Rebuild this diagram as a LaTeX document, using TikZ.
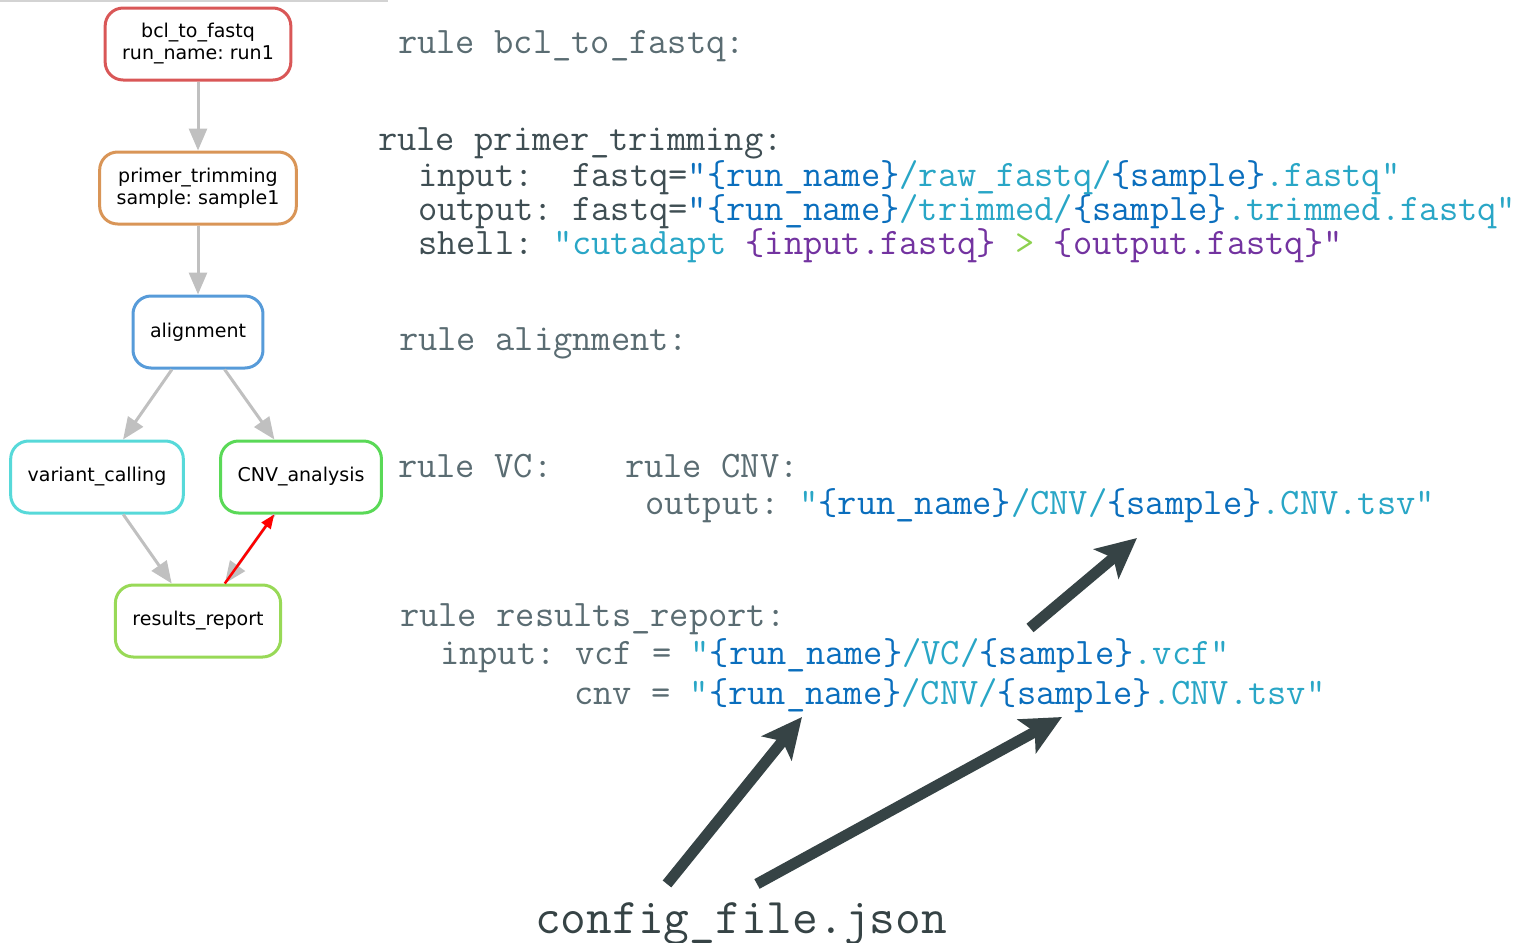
\documentclass[tikz,border=0pt]{standalone}
\usepackage{fontspec}
\setmainfont{DejaVu Sans}
\setmonofont{Latin Modern Mono}
\usepackage{xcolor}
\usetikzlibrary{
  arrows.meta,
  positioning
}
\frenchspacing
\definecolor{jobred}{HTML}{D95757}
\definecolor{joborange}{HTML}{D99557}
\definecolor{jobblue}{HTML}{579BD9}
\definecolor{jobcyan}{HTML}{57D9D9}
\definecolor{jobgreen}{HTML}{5AD957}
\definecolor{joblime}{HTML}{98D957}
\definecolor{edgegray}{HTML}{C0C0C0}
\definecolor{codegray}{HTML}{3F4E53}
\definecolor{codelight}{HTML}{5A6C72}
\definecolor{runblue}{HTML}{0A6EBD}
\definecolor{pathcyan}{HTML}{29A6C6}
\definecolor{varpurple}{HTML}{7333A0}
\definecolor{opgreen}{HTML}{8DD14F}
\definecolor{arrowdark}{HTML}{364345}

\begin{document}
\begin{tikzpicture}[
      x=1pt, y=1pt,
      job/.style={draw, line width=3pt, rounded corners=18pt, minimum height=72pt, inner xsep=17pt, inner ysep=4pt, align=center, font=\fontsize{19}{22}\selectfont},
      edge/.style={-{Triangle[length=22pt, width=18pt]}, line width=3pt, draw=edgegray},
      redge/.style={-{Triangle[length=14pt, width=11pt]}, line width=2.5pt, draw=red},
      code/.style={anchor=base west, inner sep=0pt, font=\ttfamily\fontsize{37.4}{43}\selectfont, text=codegray},
      rulehead/.style={code, text=codelight},
      bigarrow/.style={-{Stealth[length=40pt, width=38pt, inset=9pt]}, line width=11pt, draw=arrowdark}
  ]
      \useasboundingbox (0,0) rectangle (1519,-943);
      \draw[edgegray!70, line width=1.5pt] (0,-1) -- (388,-1);

      % Workflow graph
      \node[job, draw=jobred] (bcl) at (198,-44) {bcl\_to\_fastq\\run\_name: run1};
      \node[job, draw=joborange, below=69pt of bcl] (trim) {primer\_trimming\\sample: sample1};
      \node[job, draw=jobblue, below=69pt of trim] (align) {alignment};
      \node[job, draw=jobcyan] (variant) at (97,-477) {variant\_calling};
      \node[job, draw=jobgreen] (cnv) at (301,-477) {CNV\_analysis};
      \node[job, draw=joblime] (report) at (198,-621) {results\_report};

      \draw[edge] (bcl) -- (trim);
      \draw[edge] (trim) -- (align);
      \draw[edge] (align) -- (variant);
      \draw[edge] (align) -- (cnv);
      \draw[edge] (variant) -- (report);
      \draw[edge] (cnv) -- (report);
      \draw[redge] (report) -- (cnv);

      % Rules
      \node[rulehead] (rbcl) at (398,-53) {rule~bcl\_to\_fastq:};

      \node[code] (rtrim) at (378,-150) {rule~primer\_trimming:};
      \node[code] (trimin) at (418,-186) {input:~~fastq=\textcolor{runblue}{"\{run\_name\}}\textcolor{pathcyan}{/raw\_fastq/}\textcolor{runblue}{\{sample\}}\textcolor{pathcyan}{.fastq"}};
      \node[code] (trimout) at (418,-220) {output:~fastq=\textcolor{runblue}{"\{run\_name\}}\textcolor{pathcyan}{/trimmed/}\textcolor{runblue}{\{sample\}}\textcolor{pathcyan}{.trimmed.fastq"}};
      \node[code] (trimsh) at (418,-254) {shell:~\textcolor{pathcyan}{”cutadapt~}\textcolor{varpurple}{\{input.fastq\}}\textcolor{opgreen}{~>~}\textcolor{varpurple}{\{output.fastq\}"}};

      \node[rulehead] (ralign) at (399,-350) {rule~alignment:};

      \node[rulehead] (rvc) at (398,-477) {rule~VC:};
      \node[rulehead] (rcnv) at (625,-477) {rule~CNV:};
      \node[rulehead] (cnvout) at (645,-514) {output:~\textcolor{pathcyan}{"}\textcolor{runblue}{\{run\_name\}}\textcolor{pathcyan}{/CNV/}\textcolor{runblue}{\{sample\}}\textcolor{pathcyan}{.CNV.tsv"}};

      \node[rulehead] (rreport) at (400,-626) {rule~results\_report:};
      \node[rulehead] (repvcf) at (440,-664) {input:~vcf~=~\textcolor{pathcyan}{"}\textcolor{runblue}{\{run\_name\}}\textcolor{pathcyan}{/VC/}\textcolor{runblue}{\{sample\}}\textcolor{pathcyan}{.vcf"}};
      \node[rulehead] (repcnv) at (574,-704) {cnv~=~\textcolor{pathcyan}{"}\textcolor{runblue}{\{run\_name\}}\textcolor{pathcyan}{/CNV/}\textcolor{runblue}{\{sample\}}\textcolor{pathcyan}{.CNV.tsv"}};

      % Config
      \node[code, font=\ttfamily\fontsize{50}{58}\selectfont, text=arrowdark] (cfg) at (535,-933) {config\_file.json};
      \coordinate (tipvcf) at (802,-717);
      \coordinate (tipcnv) at (1062,-717);
      \coordinate (tailout) at (1030,-628);
      \coordinate (tipout) at (1137,-538);

      \draw[bigarrow] ([shift={(132pt,18pt)}]cfg.north west) -- (tipvcf);
      \draw[bigarrow] ([shift={(222pt,18pt)}]cfg.north west) -- (tipcnv);
      \draw[bigarrow] (tailout) -- (tipout);

  \end{tikzpicture}
\end{document}
